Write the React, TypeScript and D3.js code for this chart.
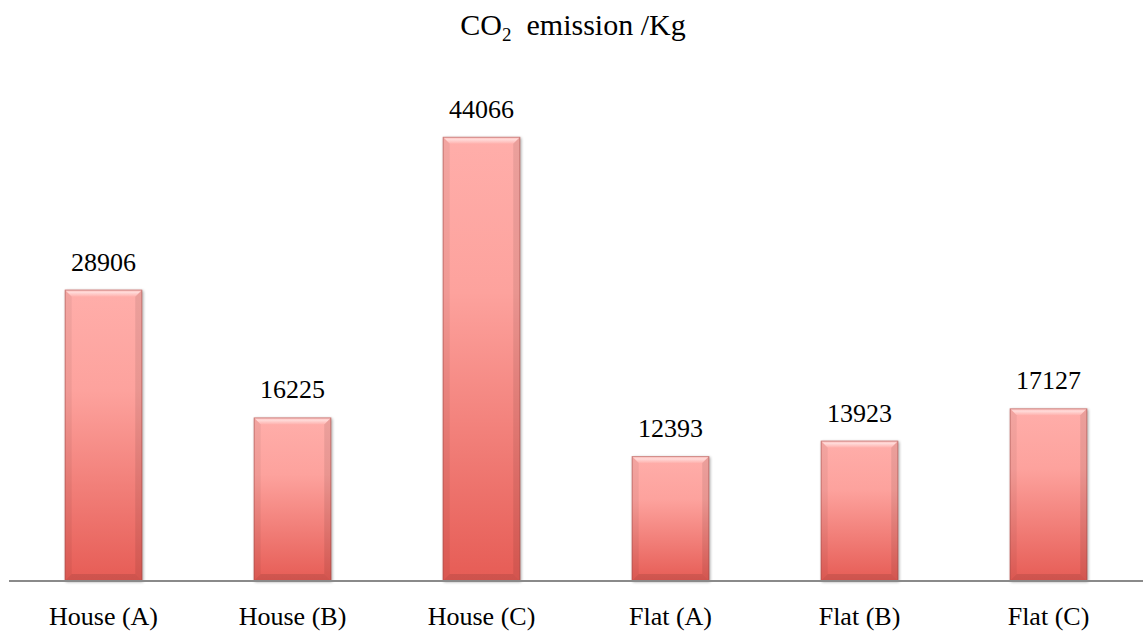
import React from "react";
import * as d3 from "d3";

const categories = ["House (A)", "House (B)", "House (C)", "Flat (A)", "Flat (B)", "Flat (C)"];
const values = [28906, 16225, 44066, 12393, 13923, 17127];

const W = 1146;
const H = 633;

export default function App() {
  const x = d3.scaleBand<string>().domain(categories).range([9, 1143]).paddingInner(0.59).paddingOuter(0.295);
  const y = d3.scaleLinear().domain([0, 50000]).range([581, 77]);
  const b = 7;
  const font = "'Liberation Serif', 'Times New Roman', serif";
  return (
    <svg width={W} height={H} style={{ position: "absolute", left: 0, top: 0, display: "block", background: "#fff" }}>
      <defs>
        <linearGradient id="barGrad" x1="0" y1="0" x2="0" y2="1">
          <stop offset="0%" stopColor="#FFAEAA" />
          <stop offset="35%" stopColor="#FDA29D" />
          <stop offset="100%" stopColor="#E65C55" />
        </linearGradient>
        <linearGradient id="topBevel" x1="0" y1="0" x2="0" y2="1">
          <stop offset="0%" stopColor="#ffffff" stopOpacity="0.15" />
          <stop offset="40%" stopColor="#ffffff" stopOpacity="0.55" />
          <stop offset="100%" stopColor="#ffffff" stopOpacity="0.05" />
        </linearGradient>
        <filter id="shadow" x="-20%" y="-20%" width="140%" height="140%">
          <feGaussianBlur stdDeviation="1.5" />
        </filter>
      </defs>
      <text x={573} y={35} textAnchor="middle" fontFamily={font} fontSize={30} fill="#000">
        CO<tspan fontSize={19} dy={6}>2</tspan>
        <tspan dy={-6}>{"\u00a0 emission /Kg"}</tspan>
      </text>
      {categories.map((c, i) => {
        const bx = x(c)!;
        const bw = x.bandwidth();
        const by = y(values[i]);
        const bh = y(0) - by;
        return (
          <g key={c}>
            <rect x={bx + 1} y={by + 1} width={bw} height={bh} fill="#000" opacity={0.35} filter="url(#shadow)" />
            <rect x={bx} y={by} width={bw} height={bh} fill="url(#barGrad)" />
            <polygon
              points={`${bx},${by} ${bx + bw},${by} ${bx + bw - b},${by + b} ${bx + b},${by + b}`}
              fill="url(#topBevel)"
            />
            <polygon
              points={`${bx},${by} ${bx + b},${by + b} ${bx + b},${by + bh - b} ${bx},${by + bh}`}
              fill="#000"
              opacity={0.05}
            />
            <polygon
              points={`${bx + bw},${by} ${bx + bw - b},${by + b} ${bx + bw - b},${by + bh - b} ${bx + bw},${by + bh}`}
              fill="#000"
              opacity={0.08}
            />
            <polygon
              points={`${bx},${by + bh} ${bx + b},${by + bh - b} ${bx + bw - b},${by + bh - b} ${bx + bw},${by + bh}`}
              fill="#000"
              opacity={0.1}
            />
            <rect x={bx + 0.5} y={by + 0.5} width={bw - 1} height={bh - 1} fill="none" stroke="#9a4a46" strokeOpacity={0.45} strokeWidth={1} />
            <text x={bx + bw / 2} y={by - 19} textAnchor="middle" fontFamily={font} fontSize={26} fill="#000">
              {values[i]}
            </text>
            <text x={bx + bw / 2} y={625} textAnchor="middle" fontFamily={font} fontSize={26} fill="#000">
              {c}
            </text>
          </g>
        );
      })}
      <line x1={9} x2={1143} y1={581} y2={581} stroke="#8a8a8a" strokeWidth={2} />
    </svg>
  );
}
